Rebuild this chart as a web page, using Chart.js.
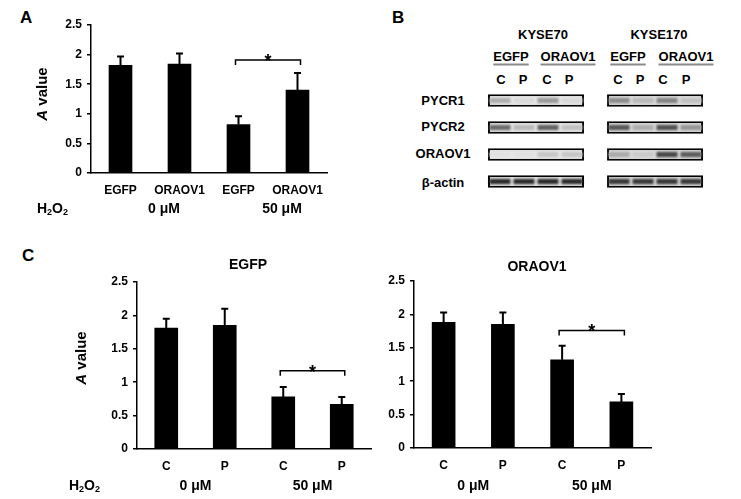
<!DOCTYPE html>
<html>
<head>
<meta charset="utf-8">
<script src="https://cdn.jsdelivr.net/npm/chart.js@4.4.1/dist/chart.umd.min.js"></script>
<style>
  body { margin:0; width:741px; height:499px; background:#fff; position:relative; overflow:hidden;
         font-family:'Liberation Sans', Arial, sans-serif; color:#000; }
  canvas { position:absolute; }
  .t { position:absolute; font-weight:bold; white-space:nowrap; line-height:1; transform:translate(-50%,-50%); }
  .letter { font-size:17px; transform:none; }
  .ul { text-decoration:underline; text-decoration-color:#8a8a8a; text-decoration-thickness:2px; text-underline-offset:3px; }
</style>
</head>
<body>
<div class="t letter" style="left:20px;top:9px">A</div>
<div class="t letter" style="left:392px;top:9px">B</div>
<div class="t letter" style="left:22px;top:247px">C</div>

<div class="t" style="left:543px;top:34px;font-size:13px">KYSE70</div>
<div class="t" style="left:659px;top:34px;font-size:13px">KYSE170</div>
<div class="t ul" style="left:511px;top:56px;font-size:13px">EGFP</div>
<div class="t ul" style="left:568px;top:56px;font-size:13px">ORAOV1</div>
<div class="t ul" style="left:628px;top:56px;font-size:13px">EGFP</div>
<div class="t ul" style="left:686px;top:56px;font-size:13px">ORAOV1</div>
<div id="lanes"></div>
<div id="rows"></div>

<canvas id="chartA" style="left:0;top:0" width="370" height="240"></canvas>
<canvas id="blot" style="left:480px;top:87px" width="232" height="108"></canvas>
<canvas id="chartCL" style="left:0;top:240px" width="375" height="259"></canvas>
<canvas id="chartCR" style="left:375px;top:240px" width="366" height="259"></canvas>

<script>
const F = "'Liberation Sans', Arial, sans-serif";

// panel A
const labelsA = ['EGFP', 'ORAOV1', 'EGFP', 'ORAOV1'];
const valuesA = [1.82, 1.84, 0.82, 1.40];
const errA    = [0.15, 0.18, 0.14, 0.29];

// panel C
const labelsC     = ['C', 'P', 'C', 'P'];
const valuesEgfp  = [1.81, 1.85, 0.78, 0.67];
const errEgfp     = [0.14, 0.25, 0.15, 0.11];
const valuesOraov = [1.88, 1.85, 1.32, 0.69];
const errOraov    = [0.15, 0.18, 0.21, 0.12];

const doseLabels = ['0 μM', '50 μM'];

// panel B (band intensity 0..1 per lane: KYSE70 C P C P, KYSE170 C P C P)
const blotRows   = ['PYCR1', 'PYCR2', 'ORAOV1', 'β-actin'];
const blotLanes  = ['C', 'P', 'C', 'P', 'C', 'P', 'C', 'P'];
const bandPYCR1  = [0.28, 0.06, 0.38, 0.06, 0.45, 0.22, 0.50, 0.18];
const bandPYCR2  = [0.62, 0.22, 0.66, 0.18, 0.72, 0.28, 0.75, 0.40];
const bandORAOV1 = [0.02, 0.02, 0.16, 0.16, 0.30, 0.14, 0.80, 0.70];
const bandActin  = [0.95, 0.95, 0.95, 0.95, 0.88, 0.88, 0.88, 0.88];

// lane / row labels of the blot
const laneLabelX = [501, 523, 547, 569, 618, 640, 663, 686];
const rowLabelY  = [100, 126, 153, 182];
document.getElementById('lanes').innerHTML = blotLanes.map((l, i) =>
  `<div class="t" style="left:${laneLabelX[i]}px;top:79px;font-size:13px">${l}</div>`).join('');
document.getElementById('rows').innerHTML = blotRows.map((r, i) =>
  `<div class="t" style="left:443px;top:${rowLabelY[i]}px;font-size:13px">${r}</div>`).join('');

function drawH2O2(ctx, x, y) {
  ctx.textAlign = 'left'; ctx.textBaseline = 'middle';
  let cx = x;
  [['H', 14, 0], ['2', 9, 4], ['O', 14, 0], ['2', 9, 4]].forEach(([t, s, dy]) => {
    ctx.font = `bold ${s}px ${F}`;
    ctx.fillText(t, cx, y + dy);
    cx += ctx.measureText(t).width;
  });
}

const annot = {
  id: 'annot',
  afterDraw(chart, args, o) {
    const { ctx, scales: { y } } = chart;
    const meta = chart.getDatasetMeta(0);
    const vals = chart.data.datasets[0].data;
    ctx.save();
    ctx.strokeStyle = '#000'; ctx.fillStyle = '#000';

    // error bars (upper only)
    ctx.lineWidth = 2;
    o.err.forEach((e, i) => {
      const bx = meta.data[i].x, y0 = y.getPixelForValue(vals[i]), y1 = y.getPixelForValue(vals[i] + e);
      ctx.beginPath();
      ctx.moveTo(bx, y0); ctx.lineTo(bx, y1);
      ctx.moveTo(bx - 3.5, y1); ctx.lineTo(bx + 3.5, y1);
      ctx.stroke();
    });

    // significance bracket
    const xa = meta.data[2].x - 3, xb = meta.data[3].x + 3, yl = y.getPixelForValue(o.sigY);
    ctx.lineWidth = 1.5;
    ctx.beginPath();
    ctx.moveTo(xa, yl + 5); ctx.lineTo(xa, yl); ctx.lineTo(xb, yl); ctx.lineTo(xb, yl + 5);
    ctx.stroke();
    ctx.font = `bold 18px ${F}`; ctx.textAlign = 'center'; ctx.textBaseline = 'alphabetic';
    ctx.fillText('*', (xa + xb) / 2, yl + 7);

    // dose group labels
    ctx.font = `bold 14px ${F}`; ctx.textBaseline = 'middle';
    doseLabels.forEach((d, g) => {
      const cx = (meta.data[g * 2].x + meta.data[g * 2 + 1].x) / 2 + o.doseShift;
      ctx.fillText(d, cx, o.doseY);
    });
    if (o.h2o2X != null) drawH2O2(ctx, o.h2o2X, o.doseY);

    // y title: italic A + value
    if (o.yTitle) {
      ctx.translate(o.yTitle[0], o.yTitle[1]);
      ctx.rotate(-Math.PI / 2);
      ctx.font = `italic bold 15px ${F}`;
      const wA = ctx.measureText('A').width;
      ctx.font = `bold 15px ${F}`;
      const wV = ctx.measureText(' value').width;
      ctx.textAlign = 'left';
      ctx.font = `italic bold 15px ${F}`;
      ctx.fillText('A', -(wA + wV) / 2, 0);
      ctx.font = `bold 15px ${F}`;
      ctx.fillText(' value', -(wA + wV) / 2 + wA, 0);
      ctx.setTransform(1, 0, 0, 1, 0, 0);
    }
    ctx.restore();

    if (o.title) {
      ctx.save();
      ctx.font = `bold 14px ${F}`; ctx.textAlign = 'center'; ctx.textBaseline = 'middle'; ctx.fillStyle = '#000';
      ctx.fillText(o.title[0], o.title[1], o.title[2]);
      ctx.restore();
    }
  }
};

function barChart(id, labels, values, err, lay, extra) {
  return new Chart(document.getElementById(id), {
    type: 'bar',
    data: { labels, datasets: [{ data: values, backgroundColor: '#000', borderWidth: 0, barThickness: 23 }] },
    options: {
      responsive: false, animation: false,
      layout: { padding: { left: 0, top: lay.top, right: lay.right, bottom: 0 } },
      plugins: { legend: { display: false }, tooltip: { enabled: false },
                 annot: { err, ...extra } },
      scales: {
        x: {
          grid: { display: false, drawTicks: false },
          border: { color: '#000', width: 1.5 },
          ticks: { color: '#000', font: { family: F, size: 12, weight: 'bold' }, padding: 10 },
          afterFit: s => { s.height = lay.xh; }
        },
        y: {
          min: 0, max: 2.5,
          grid: { drawOnChartArea: false, drawTicks: true, tickLength: 4, color: '#000', lineWidth: 1.5 },
          border: { color: '#000', width: 1.5 },
          ticks: { stepSize: 0.5, color: '#000', padding: 5, font: { family: F, size: 12, weight: 'bold' },
                   callback: v => String(v) },
          afterFit: s => { s.width = lay.yw; }
        }
      }
    },
    plugins: [annot]
  });
}

barChart('chartA', labelsA, valuesA, errA,
  { top: 25, right: 43, xh: 67, yw: 91 },
  { sigY: 1.91, doseY: 209, doseShift: 14, h2o2X: 37, yTitle: [43, 94] });

barChart('chartCL', labelsC, valuesEgfp, errEgfp,
  { top: 42, right: 4, xh: 50, yw: 137 },
  { sigY: 1.17, doseY: 246, doseShift: 0, h2o2X: 69, yTitle: [82, 118], title: ['EGFP', 248, 25] });

barChart('chartCR', labelsC, valuesOraov, errOraov,
  { top: 41, right: 90, xh: 51, yw: 39 },
  { sigY: 1.76, doseY: 246, doseShift: 0, title: ['ORAOV1', 162, 27] });

// western blot drawn as floating horizontal bars
const GAP = 0.96;
const laneX = i => i + (i >= 4 ? GAP : 0);
const bands = [bandPYCR1, bandPYCR2, bandORAOV1, bandActin];
const gray = v => { const c = Math.round(228 - 195 * v); return `rgb(${c},${c},${c})`; };

const boxSets = [0, 1].map(g => ({
  data: blotRows.map(() => [g * (4 + GAP) - 0.5, g * (4 + GAP) + 3.5]),
  backgroundColor: g ? '#dcdcdc' : '#e8e8e8',
  borderColor: '#000', borderWidth: 2, borderSkipped: false,
  barPercentage: 0.47, categoryPercentage: 1, order: 2
}));
const bandSets = blotLanes.map((l, i) => ({
  data: blotRows.map(() => [laneX(i) - 0.44, laneX(i) + 0.44]),
  backgroundColor: bands.map(r => gray(r[i])),
  borderWidth: 0, barPercentage: 0.2, categoryPercentage: 1, order: 1
}));

// soften the bands a little, like a scanned film
const blur = {
  id: 'blur',
  beforeDatasetDraw(chart, args) { if (args.index >= 2) { chart.ctx.save(); chart.ctx.filter = 'blur(1px)'; } },
  afterDatasetDraw(chart, args) { if (args.index >= 2) chart.ctx.restore(); }
};

new Chart(document.getElementById('blot'), {
  type: 'bar',
  data: { labels: blotRows, datasets: [...boxSets, ...bandSets] },
  options: {
    indexAxis: 'y', responsive: false, animation: false,
    datasets: { bar: { grouped: false } },
    layout: { padding: 0 },
    plugins: { legend: { display: false }, tooltip: { enabled: false } },
    scales: {
      x: { type: 'linear', min: -0.5 - 8 / 24, max: (232 - 8) / 24 - 0.5, display: false },
      y: { display: false }
    }
  },
  plugins: [blur]
});
</script>
</body>
</html>
